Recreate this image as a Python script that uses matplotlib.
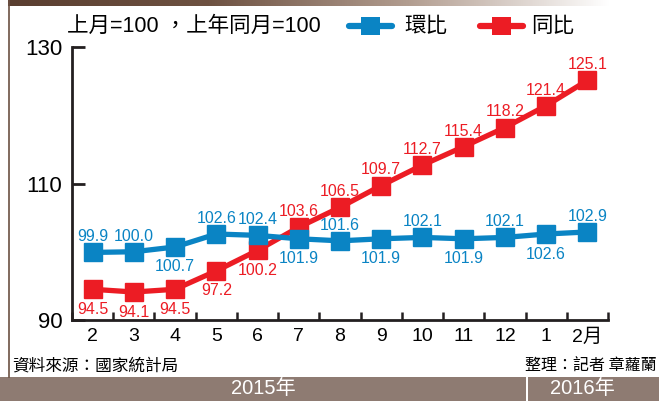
import matplotlib
matplotlib.use("Agg")
import matplotlib.pyplot as plt
import numpy as np
from matplotlib.lines import Line2D
from matplotlib.colors import LinearSegmentedColormap

plt.rcParams['font.family'] = ['Liberation Sans', 'Noto Sans CJK TC', 'DejaVu Sans']

months = ["2", "3", "4", "5", "6", "7", "8", "9", "10", "11", "12", "1", "2月"]
mom = [99.9, 100.0, 100.7, 102.6, 102.4, 101.9, 101.6, 101.9, 102.1, 101.9, 102.1, 102.6, 102.9]
yoy = [94.5, 94.1, 94.5, 97.2, 100.2, 103.6, 106.5, 109.7, 112.7, 115.4, 118.2, 121.4, 125.1]
mom_pos = ["above", "above", "below", "above", "above", "below", "above", "below", "above", "below", "above", "below", "above"]
yoy_pos = ["below"] * 5 + ["above"] * 8
yticks = [90, 110, 130]

BLUE = "#0a84c4"
RED = "#ec1c24"
W, H = 659, 401
fig = plt.figure(figsize=(W / 100, H / 100), dpi=100)

# decorative frame
bg = fig.add_axes([0, 0, 1, 1], zorder=0)
bg.set_xlim(0, W)
bg.set_ylim(H, 0)
bg.axis("off")
grad = np.linspace(0, 1, 256)[None, :]
cmap = LinearSegmentedColormap.from_list("g", ["#5a3e30", "#6e5242", "#b29d90", "#ffffff"])
bg.imshow(grad, cmap=cmap, extent=[8, 610, 6, 0], aspect="auto")
bg.plot([8.5, 8.5], [0, 377], color="#6b5042", lw=1.2)
bg.add_patch(plt.Rectangle((0, 377), W, 24, color="#8e7b72", lw=0))
bg.add_patch(plt.Rectangle((526, 377), 2, 24, color="white", lw=0))
bg.text(263, 389, "2015年", color="white", fontsize=14.5, ha="center", va="center")
bg.text(582, 389, "2016年", color="white", fontsize=14.5, ha="center", va="center")
bg.text(12, 366, "資料來源：國家統計局", fontsize=12, ha="left", va="center",
        family=['Noto Sans CJK TC'])
bg.text(657, 366, "整理：記者 章蘿蘭", fontsize=11.5, ha="right", va="center",
        family=['Noto Sans CJK TC'])

# legend
bg.text(67, 26, "上月=100 ，上年同月=100", fontsize=15.5, ha="left", va="center")
bg.add_line(Line2D([349, 392], [26, 26], color=BLUE, lw=4.5, solid_capstyle="round"))
bg.add_patch(plt.Rectangle((361, 17), 19, 18, color=BLUE, lw=0))
bg.text(404, 26, "環比", fontsize=15.5, ha="left", va="center")
bg.add_line(Line2D([480, 523], [26, 26], color=RED, lw=4.5, solid_capstyle="round"))
bg.add_patch(plt.Rectangle((492, 17), 19, 18, color=RED, lw=0))
bg.text(531, 26, "同比", fontsize=15.5, ha="left", va="center")

ax = fig.add_axes([72 / W, 1 - 320 / H, (608 - 72) / W, (320 - 47) / H], zorder=1)
ax.patch.set_alpha(0)
x = np.arange(len(months))
ax.plot(x, yoy, color=RED, lw=3.8, marker="s", ms=12.5, zorder=3)
ax.plot(x, mom, color=BLUE, lw=3.8, marker="s", ms=12.5, zorder=4)


def label(xs, vals, pos, color):
    for xi, v, p in zip(xs, vals, pos):
        if p == "above":
            ax.annotate(f"{v:.1f}", (xi, v), xytext=(0, 8), textcoords="offset points",
                        ha="center", va="baseline", color=color, fontsize=11.5, zorder=5)
        else:
            ax.annotate(f"{v:.1f}", (xi, v), xytext=(0, -9), textcoords="offset points",
                        ha="center", va="top", color=color, fontsize=11.5, zorder=5)


label(x, mom, mom_pos, BLUE)
label(x, yoy, yoy_pos, RED)

ax.set_xlim(-0.5, len(months) - 0.5)
ax.set_ylim(90, 130)
ax.set_yticks(yticks)
ax.set_yticklabels([str(t) for t in yticks], fontsize=16)
ax.set_xticks(x)
ax.set_xticklabels(months, fontsize=14)
ax.set_xticks(np.arange(-0.5, len(months), 1), minor=True)
ax.tick_params(axis="x", which="major", length=0, pad=6)
ax.tick_params(axis="x", which="minor", direction="in", length=6, width=1.8, color="#231f20")
ax.tick_params(axis="y", direction="in", length=9, width=2, color="#231f20", pad=7)
for s in ["top", "right"]:
    ax.spines[s].set_visible(False)
for s in ["left", "bottom"]:
    ax.spines[s].set_linewidth(2)
    ax.spines[s].set_color("#231f20")

fig.savefig("out.png", dpi=100)
